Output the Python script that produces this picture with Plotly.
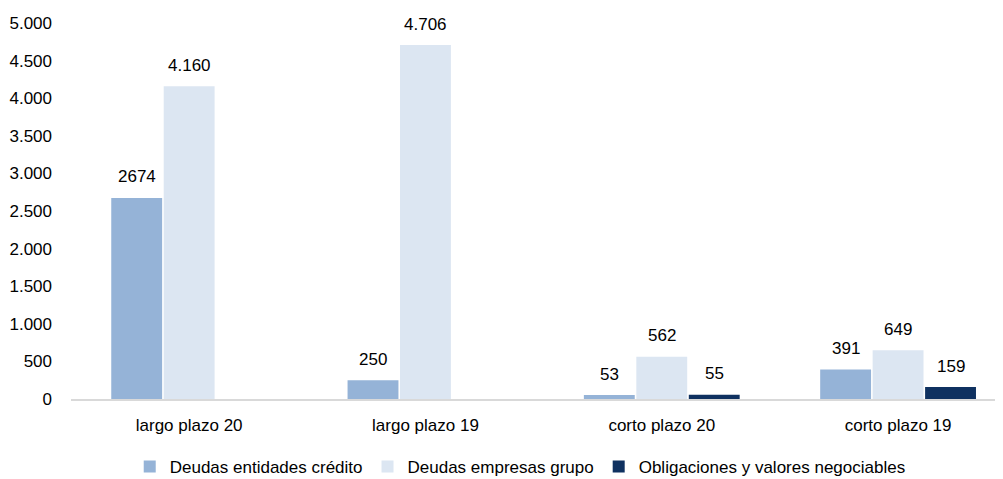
import plotly.graph_objects as go

categories = ["largo plazo 20", "largo plazo 19", "corto plazo 20", "corto plazo 19"]
series_names = ["Deudas entidades crédito", "Deudas empresas grupo", "Obligaciones y valores negociables"]
credito = [2674, 250, 53, 391]
grupo = [4160, 4706, 562, 649]
obligaciones = [0, 0, 55, 159]
credito_labels = ["2674", "250", "53", "391"]
grupo_labels = ["4.160", "4.706", "562", "649"]
obligaciones_labels = ["", "", "55", "159"]
y_ticks = [0, 500, 1000, 1500, 2000, 2500, 3000, 3500, 4000, 4500, 5000]
y_tick_labels = ["0", "500", "1.000", "1.500", "2.000", "2.500", "3.000", "3.500", "4.000", "4.500", "5.000"]

colors = ["#95b3d7", "#dce6f2", "#0f3160"]
font = "Liberation Sans, Arial, sans-serif"
FS = 17
bargap = 0.334

fig = go.Figure()
all_vals = [credito, grupo, obligaciones]
all_labels = [credito_labels, grupo_labels, obligaciones_labels]
for name, vals, c in zip(series_names, all_vals, colors):
    fig.add_trace(go.Bar(
        x=categories, y=vals, name=name, marker=dict(color=c, line=dict(width=0)),
    ))

# value labels positioned on the bar tops through the axes
slot = (1 - bargap) / 3
annotations = []
for j, (vals, labels) in enumerate(zip(all_vals, all_labels)):
    for i, (v, t) in enumerate(zip(vals, labels)):
        if not t:
            continue
        annotations.append(dict(
            x=i + (j - 1) * slot, y=v, xref="x", yref="y", text=t, showarrow=False,
            yanchor="middle", yshift=21, font=dict(family=font, size=FS, color="#000000"),
        ))

fig.update_layout(
    width=995, height=471,
    margin=dict(l=63, r=0, t=15, b=80, autoexpand=False),
    paper_bgcolor="white", plot_bgcolor="white",
    barmode="group", bargap=bargap, bargroupgap=0.03,
    font=dict(family=font, size=FS, color="#000000"),
    showlegend=True,
    legend=dict(orientation="h", x=0.482, xanchor="center", y=-0.181, yanchor="middle",
                font=dict(family=font, size=FS), traceorder="normal"),
    annotations=annotations,
)
fig.update_xaxes(type="category", range=[-0.5, 3.444], showgrid=False, showline=True,
                 linecolor="#d9d9d9", linewidth=1.5, ticks="", ticklabelstandoff=10,
                 tickfont=dict(family=font, size=FS))
fig.update_yaxes(range=[0, 5000], tickvals=y_ticks, ticktext=y_tick_labels, showgrid=False,
                 zeroline=False, showline=False, ticks="", ticklabelstandoff=18,
                 tickfont=dict(family=font, size=FS))

fig.write_html("out.html")
